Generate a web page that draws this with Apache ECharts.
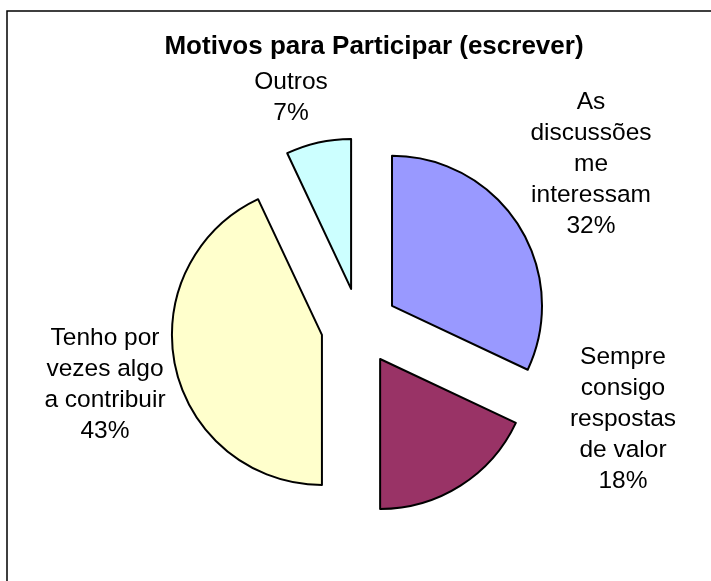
<!DOCTYPE html>
<html>
<head>
<meta charset="utf-8">
<script src="https://cdn.jsdelivr.net/npm/echarts@6/dist/echarts.min.js"></script>
<style>
  html, body { margin: 0; padding: 0; background: #fff; }
  #chart { width: 711px; height: 581px; }
</style>
</head>
<body>
<div id="chart"></div>
<script>
// slice names (line breaks as shown in the chart) and shares in %
const categories = [
  'As\ndiscussões\nme\ninteressam',
  'Sempre\nconsigo\nrespostas\nde valor',
  'Tenho por\nvezes algo\na contribuir',
  'Outros'
];
const values = [32, 18, 43, 7];
const colors = ['#9999FF', '#993366', '#FFFFCC', '#CCFFFF'];

// centre of each data label block, as Excel placed them
const labelSpots = [[591, 164], [623, 419], [105, 385], [291, 98]];

let chartDom = document.getElementById('chart');
let myChart = echarts.init(chartDom);

// data labels as text built from the arrays above
let labelTexts = categories.map(function (name, i) {
  return {
    type: 'text',
    x: labelSpots[i][0],
    y: labelSpots[i][1],
    silent: true,
    style: {
      text: name + '\n' + values[i] + '%',
      fontFamily: 'Liberation Sans',
      fontSize: 24.5,
      lineHeight: 31,
      fill: '#000',
      align: 'center',
      verticalAlign: 'middle'
    }
  };
});

let option = {
  backgroundColor: '#fff',
  animation: false,
  title: {
    text: 'Motivos para Participar (escrever)',
    left: 369,
    top: 29,
    textAlign: 'center',
    textStyle: {
      fontFamily: 'Liberation Sans',
      fontWeight: 'bold',
      fontSize: 26,
      color: '#000'
    }
  },
  graphic: [{
    type: 'rect',
    shape: { x: 7, y: 11, width: 730, height: 600 },
    style: { fill: 'none', stroke: '#000', lineWidth: 1.5 },
    silent: true
  }].concat(labelTexts),
  series: [{
    type: 'pie',
    center: [359.5, 326.5],
    radius: 150,
    startAngle: 90,
    clockwise: true,
    selectedMode: 'multiple',
    selectedOffset: 38.5,
    itemStyle: { borderColor: '#000', borderWidth: 2 },
    emphasis: { disabled: true },
    label: { show: false },
    labelLine: { show: false },
    data: values.map(function (v, i) {
      return {
        name: categories[i],
        value: v,
        selected: true,
        itemStyle: { color: colors[i] },
        select: { itemStyle: { color: colors[i], borderColor: '#000', borderWidth: 2 } }
      };
    })
  }]
};

option && myChart.setOption(option);
</script>
</body>
</html>
